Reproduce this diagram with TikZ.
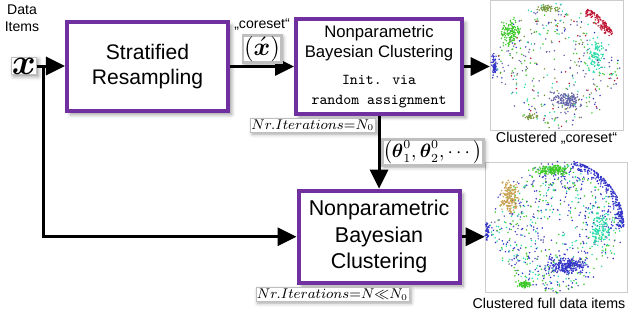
\documentclass[tikz,border=0pt]{standalone}
\usepackage{amsmath}
\usepackage{fontspec}
\setmainfont{Liberation Sans}
\usepackage{xcolor}
\usetikzlibrary{arrows.meta, positioning, shadows.blur}

\definecolor{boxpurple}{RGB}{112,48,160}
\definecolor{dred}{RGB}{190,20,50}
\definecolor{dgreen}{RGB}{60,200,40}
\definecolor{dolive}{RGB}{120,150,60}
\definecolor{dblue}{RGB}{50,50,200}
\definecolor{dcyan}{RGB}{40,220,170}
\definecolor{dslate}{RGB}{100,100,170}
\definecolor{dtan}{RGB}{200,160,80}

\newcommand{\initfont}{\fontsize{8.6}{10}\selectfont\ttfamily}
% scatter helpers: count, centre x, centre y, ...
\newcommand{\clusterdots}[6]{\foreach \q in {1,...,#1}{\fill[#6] ({#2+#4*(rand+rand)/2},{#3+#5*(rand+rand)/2}) circle[radius=0.17mm];}}
\newcommand{\diskdots}[5]{\foreach \q in {1,...,#1}{\fill[#5] ([shift={(#2,#3)}]{360*rnd}:{#4*sqrt(rnd)}) circle[radius=0.17mm];}}
\newcommand{\rimdots}[7]{\foreach \q [evaluate=\q as \ang using {#5+(#6-#5)*rnd}, evaluate=\q as \rad using {#4-10*rnd*rnd}] in {1,...,#1}{\fill[#7] ([shift={(#2,#3)}]\ang:\rad) circle[radius=0.17mm];}}

\begin{document}
\begin{tikzpicture}[
		x=0.2mm, y=-0.2mm,
		node distance=12.8mm,
		stage/.style={rectangle, draw=boxpurple, line width=2.3pt, fill=white, minimum width=32.2mm, minimum height=17.8mm, align=center, blur shadow={shadow xshift=0.7mm, shadow yshift=-0.7mm, shadow blur steps=6}},
		tag/.style={fill=white, draw=black!25, inner sep=0.6pt, blur shadow={shadow xshift=0.4mm, shadow yshift=-0.4mm, shadow blur steps=3}},
		plot/.style={draw=black!20, line width=0.3pt, inner sep=0pt, minimum height=26mm},
		caption/.style={inner sep=1pt, font=\fontsize{8.1}{10}\selectfont},
		arrow/.style={-{Triangle[length=3.8mm, width=3.6mm]}, line width=1.7pt}
		]
		\useasboundingbox (0,0) rectangle (632,323);
		
		% Nodes
		\node[font=\fontsize{8}{9.5}\selectfont, align=center] (items) at (22,18) {Data\\Items};
		\node[tag, inner sep=0.3pt, font=\fontsize{20}{22}\selectfont] (xin) at (24,66) {$\boldsymbol{x}$};
		\node[stage, font=\fontsize{12}{14}\selectfont] (resample) at (147.5,66.5) {Stratified\\Resampling};
		\node[stage, minimum width=33.2mm, minimum height=18mm, font=\fontsize{9.5}{11.4}\selectfont] (coarse) [right=of resample] {Nonparametric\\Bayesian Clustering\\[1.4mm]{\initfont Init. via}\\{\initfont random assignment}};
		\node[stage, minimum height=18.4mm, font=\fontsize{12.2}{15}\selectfont] (fine) [below=14.6mm of coarse] {Nonparametric\\Bayesian\\Clustering};
		\node[tag, anchor=north west, font=\fontsize{7.8}{9}\selectfont] (iterA) at ([xshift=-8.8mm, yshift=-0.5mm]coarse.south west) {$Nr.Iterations{=}N_0$};
		\node[tag, anchor=north west, font=\fontsize{7.8}{9}\selectfont] (iterB) at ([xshift=-8.2mm, yshift=-0.5mm]fine.south west) {$Nr.Iterations{=}N{\ll}N_0$};
		\node[plot, minimum width=26.6mm] (plotA) at (556.5,65) {};
		\node[plot, minimum width=28.4mm] (plotB) at (556,227) {};
		\node[caption] (capA) [below=0pt of plotA] {Clustered „coreset“};
		\node[caption, xshift=-1.4mm] (capB) [below=0.8mm of plotB] {Clustered full data items};
		\coordinate (split) at ([xshift=1.4mm]xin.east);
		
		% Arrows
		\draw[arrow] (xin.east) -- (resample.west |- xin.east);
		\draw[arrow] (split) |- (fine.west);
		\draw[arrow] (resample) -- node[above=0.5mm, tag, font=\fontsize{14}{16}\selectfont] (xcore) {$(\acute{\boldsymbol{x}})$} (coarse);
		\node[inner sep=0.5pt, font=\fontsize{8}{9.5}\selectfont] (coreset) [above=0.4mm of xcore] {„coreset“};
		\draw[arrow] (coarse) -- node[right=0.3mm, tag, font=\fontsize{10.5}{12}\selectfont] (theta) {$\left(\boldsymbol{\theta}_1^0,\boldsymbol{\theta}_2^0,\cdots\right)$} (fine);
		\draw[arrow] (coarse.east) -- (coarse.east -| plotA.west);
		\draw[arrow] (fine.east) -- (fine.east -| plotB.west);
		
		% Clustered coreset
		\pgfmathsetseed{11}
		\diskdots{130}{557}{66}{63}{dslate}
		\diskdots{80}{557}{66}{63}{dgreen}
		\diskdots{60}{557}{66}{63}{dcyan}
		\diskdots{60}{557}{66}{63}{dolive}
		\diskdots{35}{557}{66}{63}{dblue}
		\diskdots{30}{557}{66}{63}{dred}
		\rimdots{130}{557}{66}{65}{-62}{-30}{dred}
		\clusterdots{130}{510}{32}{12}{16}{dgreen}
		\clusterdots{50}{548}{8}{14}{4}{dolive}
		\clusterdots{60}{494}{66}{3}{14}{dblue}
		\clusterdots{90}{595}{55}{9}{20}{dcyan}
		\clusterdots{140}{566}{100}{16}{9}{dslate}
		\clusterdots{30}{530}{117}{9}{4}{dolive}
		
		% Clustered full data
		\diskdots{300}{556}{227}{66}{dblue}
		\diskdots{190}{556}{227}{66}{dgreen}
		\diskdots{180}{556}{227}{66}{dcyan}
		\diskdots{90}{556}{227}{66}{dslate}
		\clusterdots{170}{510}{197}{10}{18}{dtan}
		\clusterdots{170}{552}{170}{20}{6}{dgreen}
		\rimdots{280}{556}{227}{68}{-75}{0}{dblue}
		\clusterdots{110}{601}{228}{10}{22}{dcyan}
		\clusterdots{220}{568}{266}{22}{9}{dblue}
		\clusterdots{70}{524}{284}{9}{4}{dgreen}
		\clusterdots{40}{487}{232}{3}{12}{dblue}
	\end{tikzpicture}
\end{document}
